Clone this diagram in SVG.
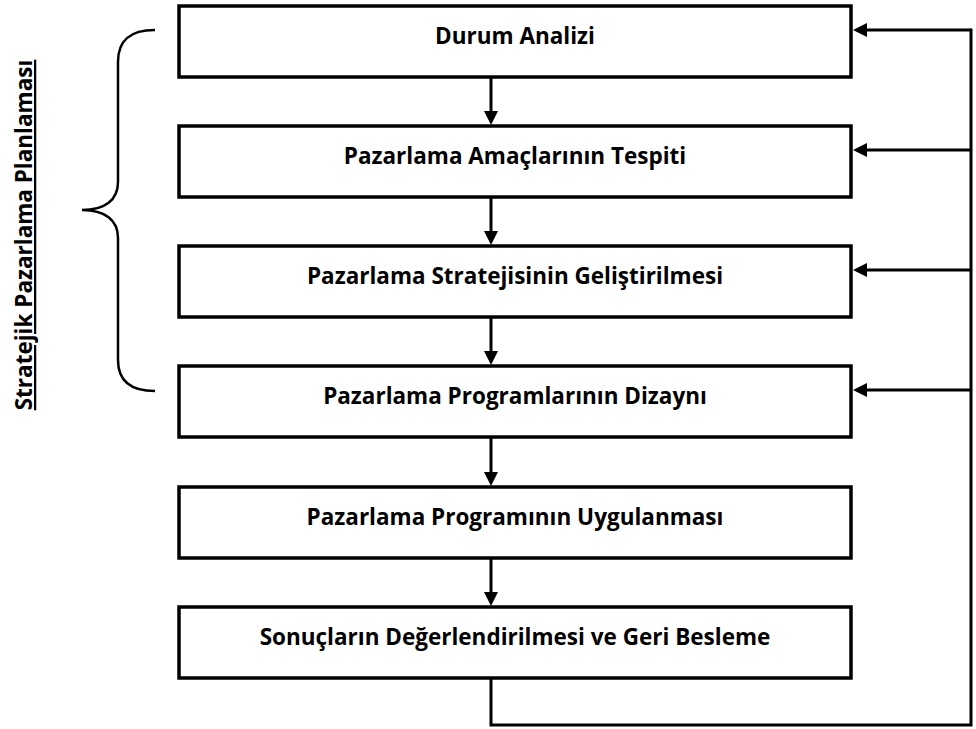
<svg xmlns="http://www.w3.org/2000/svg" width="976" height="729" viewBox="0 0 976 729">
<style>
.box{fill:#fff;stroke:#000;stroke-width:3.5}
.lbl{font-family:"Open Sans","Liberation Sans",sans-serif;font-weight:700;font-size:22.5px;fill:#000;text-anchor:middle}
.ln{fill:none;stroke:#000;stroke-width:3}
</style>
<defs>
<marker id="ah" markerUnits="userSpaceOnUse" viewBox="0 0 14 14" refX="0" refY="7" markerWidth="14" markerHeight="14" orient="auto">
<path d="M0,0 L14,7 L0,14 z" fill="#000"/>
</marker>
</defs>
<rect width="976" height="729" fill="#fff"/>
<g id="brace">
<path d="M155,30 C130,30 118,40 118,62 L118,182 C118,200 105,210 82,210 C105,210 118,220 118,238 L118,360 C118,381 130,391 155,391" fill="none" stroke="#000" stroke-width="2.5"/>
<text class="lbl" transform="translate(32,235) rotate(-90)" text-decoration="underline">Stratejik Pazarlama Planlaması</text>
</g>
<g id="n1"><rect class="box" x="179" y="6" width="672" height="71"/><text class="lbl" x="515" y="44">Durum Analizi</text></g>
<g id="n2"><rect class="box" x="179" y="126" width="672" height="71"/><text class="lbl" x="515" y="164">Pazarlama Amaçlarının Tespiti</text></g>
<g id="n3"><rect class="box" x="179" y="246" width="672" height="71"/><text class="lbl" x="515" y="284">Pazarlama Stratejisinin Geliştirilmesi</text></g>
<g id="n4"><rect class="box" x="179" y="366" width="672" height="71"/><text class="lbl" x="515" y="404">Pazarlama Programlarının Dizaynı</text></g>
<g id="n5"><rect class="box" x="179" y="487" width="672" height="71"/><text class="lbl" x="515" y="525">Pazarlama Programının Uygulanması</text></g>
<g id="n6"><rect class="box" x="179" y="607" width="672" height="71"/><text class="lbl" x="515" y="645">Sonuçların Değerlendirilmesi ve Geri Besleme</text></g>
<g id="connectors">
<line class="ln" x1="491" y1="78" x2="491" y2="111" marker-end="url(#ah)"/>
<line class="ln" x1="491" y1="198" x2="491" y2="231" marker-end="url(#ah)"/>
<line class="ln" x1="491" y1="318" x2="491" y2="351" marker-end="url(#ah)"/>
<line class="ln" x1="491" y1="438" x2="491" y2="472" marker-end="url(#ah)"/>
<line class="ln" x1="491" y1="559" x2="491" y2="592" marker-end="url(#ah)"/>
<path class="ln" d="M491,679 V725 H971 V28.5"/>
<line class="ln" x1="971" y1="30" x2="867" y2="30" marker-end="url(#ah)"/>
<line class="ln" x1="971" y1="150" x2="867" y2="150" marker-end="url(#ah)"/>
<line class="ln" x1="971" y1="270" x2="867" y2="270" marker-end="url(#ah)"/>
<line class="ln" x1="971" y1="390" x2="867" y2="390" marker-end="url(#ah)"/>
</g>
</svg>
